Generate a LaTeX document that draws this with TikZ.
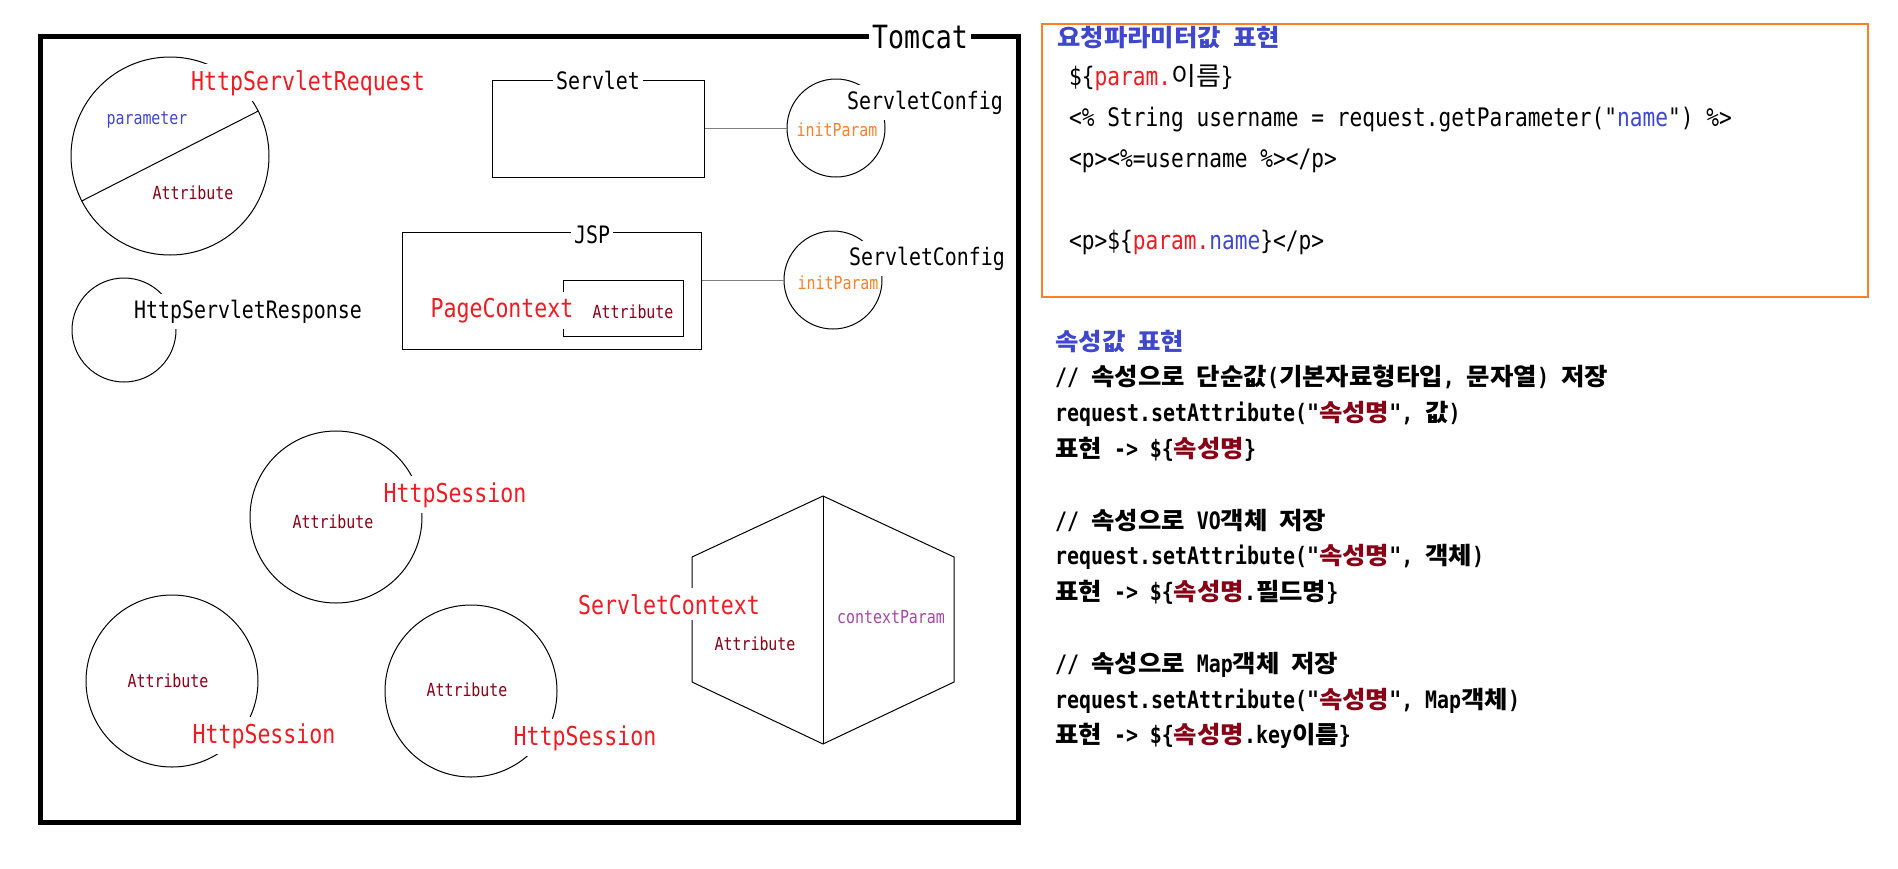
\documentclass[tikz,border=0pt]{standalone}
\usepackage{fontspec}
\setmainfont{DejaVu Sans Mono}[FakeStretch=0.83,Ligatures=TeXOff]
\newfontfamily\ko{Noto Sans CJK KR}[FakeStretch=1.06]
\newcommand{\hg}[1]{{\ko #1}}
\definecolor{pRed}{RGB}{237,28,36}
\definecolor{pDark}{RGB}{136,0,21}
\definecolor{pBlue}{RGB}{63,72,204}
\definecolor{pOrange}{RGB}{255,127,39}
\definecolor{pPurple}{RGB}{163,73,164}
\definecolor{pGray}{RGB}{127,127,127}
\begin{document}
\begin{tikzpicture}[x=1pt,y=-1pt,
  ring/.style={circle,draw,line width=1pt,inner sep=0pt},
  boxnode/.style={draw,line width=1pt,inner sep=0pt},
  link/.style={draw=pGray,line width=1pt},
  blklbl/.style={fill=white,inner xsep=3pt,inner ysep=6pt,anchor=base,font=\fontsize{24}{28}\selectfont},
  redlbl/.style={blklbl,text=pRed,font=\fontsize{26}{30}\selectfont},
  smalltxt/.style={inner sep=0pt,anchor=base,font=\fontsize{18}{22}\selectfont},
  attrtxt/.style={smalltxt,text=pDark},
  codetxt/.style={inner sep=0pt,anchor=base west,font=\fontsize{25.5}{30}\selectfont},
  boldtxt/.style={inner sep=0pt,anchor=base west,font={\fontsize{24}{28}\selectfont\bfseries}}]
\useasboundingbox (0,0) rectangle (1898,868);
\node[draw,line width=5pt,inner sep=0pt,minimum width=978pt,minimum height=786pt] (tomcat) at (529,429) {};
\node[blklbl,font=\fontsize{32}{36}\selectfont] (tomcatlbl) at (920,48) {Tomcat};

\node[ring,minimum size=198pt] (req) at (170,156) {};
\draw[line width=1pt] (req.207) -- (req.27);
\node[redlbl] (reqlbl) at (308,90) {HttpServletRequest};
\node[smalltxt,text=pBlue] (reqparam) at (147,124) {parameter};
\node[attrtxt] (reqattr) at (193,199) {Attribute};

\node[ring,minimum size=104pt] (resp) at (124,330) {};
\node[blklbl] (resplbl) at (248,318) {HttpServletResponse};

\node[boxnode,minimum width=212pt,minimum height=97pt] (servlet) at (598,128.5) {};
\node[blklbl] (servletlbl) at (598,89) {Servlet};
\node[ring,minimum size=98pt] (cfgA) at (836,128) {};
\node[blklbl] (cfgAlbl) at (925,109) {ServletConfig};
\node[smalltxt,text=pOrange] (initA) at (837,136) {initParam};
\draw[link] (cfgA.west -| servlet.east) -- (cfgA.west);

\node[boxnode,minimum width=299pt,minimum height=117pt] (jsp) at (551.5,290.5) {};
\node[blklbl] (jsplbl) at (592,243) {JSP};
\node[boxnode,minimum width=120pt,minimum height=56pt] (page) at (623,308) {};
\node[redlbl] (pagelbl) at (502,317) {PageContext};
\node[attrtxt] (pageattr) at (633,318) {Attribute};
\node[ring,minimum size=98pt] (cfgB) at (833,280) {};
\node[blklbl] (cfgBlbl) at (927,265) {ServletConfig};
\node[smalltxt,text=pOrange] (initB) at (838,289) {initParam};
\draw[link] (cfgB.west -| jsp.east) -- (cfgB.west);

\node[ring,minimum size=172pt] (sesA) at (336,517) {};
\node[redlbl] (sesAlbl) at (455,502) {HttpSession};
\node[attrtxt] (sesAattr) at (333,528) {Attribute};
\node[ring,minimum size=172pt] (sesB) at (172,681) {};
\node[redlbl] (sesBlbl) at (264,743) {HttpSession};
\node[attrtxt] (sesBattr) at (168,687) {Attribute};
\node[ring,minimum size=172pt] (sesC) at (471,691) {};
\node[redlbl] (sesClbl) at (585,745) {HttpSession};
\node[attrtxt] (sesCattr) at (467,696) {Attribute};

\coordinate (ctxT) at (823,496);
\coordinate (ctxUR) at (954,557);
\coordinate (ctxLR) at (954,682);
\coordinate (ctxB) at (823,744);
\coordinate (ctxLL) at (692,682);
\coordinate (ctxUL) at (692,557);
\draw[line width=1pt] (ctxT) -- (ctxUR) -- (ctxLR) -- (ctxB) -- (ctxLL) -- (ctxUL) -- cycle;
\draw[line width=1pt] (ctxT) -- (ctxB);
\node[redlbl] (ctxlbl) at (669,614) {ServletContext};
\node[attrtxt] (ctxattr) at (755,650) {Attribute};
\node[smalltxt,text=pPurple] (ctxparam) at (891,623) {contextParam};

\node[draw=pOrange,line width=1.5pt,inner sep=0pt,minimum width=826pt,minimum height=273pt] (elbox) at (1455,160.5) {};
\node[boldtxt,text=pBlue] (elhead) at (1057,46) {\hg{요청파라미터값} \hg{표현}};
\node[codetxt] (el1) at (1069,85) {\$\{\textcolor{pRed}{param.}\hg{이름}\}};
\node[codetxt] (el2) at (1069,126) {<\% String username = request.getParameter("\textcolor{pBlue}{name}") \%>};
\node[codetxt] (el3) at (1069,167) {<p><\%=username \%></p>};
\node[codetxt] (el4) at (1069,249) {<p>\$\{\textcolor{pRed}{param.}\textcolor{pBlue}{name}\}</p>};

\node[boldtxt,text=pBlue] (athead) at (1055,350) {\hg{속성값} \hg{표현}};
\node[boldtxt] (at1) at (1055,385.8) {// \hg{속성으로} \hg{단순값}(\hg{기본자료형타입}, \hg{문자열}) \hg{저장}};
\node[boldtxt] (at2) at (1055,421.6) {request.setAttribute("\textcolor{pDark}{\hg{속성명}}", \hg{값})};
\node[boldtxt] (at3) at (1055,457.4) {\hg{표현} -> \$\{\textcolor{pDark}{\hg{속성명}}\}};
\node[boldtxt] (at4) at (1055,529) {// \hg{속성으로} VO\hg{객체} \hg{저장}};
\node[boldtxt] (at5) at (1055,564.8) {request.setAttribute("\textcolor{pDark}{\hg{속성명}}", \hg{객체})};
\node[boldtxt] (at6) at (1055,600.6) {\hg{표현} -> \$\{\textcolor{pDark}{\hg{속성명}}.\hg{필드명}\}};
\node[boldtxt] (at7) at (1055,672.2) {// \hg{속성으로} Map\hg{객체} \hg{저장}};
\node[boldtxt] (at8) at (1055,708) {request.setAttribute("\textcolor{pDark}{\hg{속성명}}", Map\hg{객체})};
\node[boldtxt] (at9) at (1055,743.8) {\hg{표현} -> \$\{\textcolor{pDark}{\hg{속성명}}.key\hg{이름}\}};
\end{tikzpicture}
\end{document}
